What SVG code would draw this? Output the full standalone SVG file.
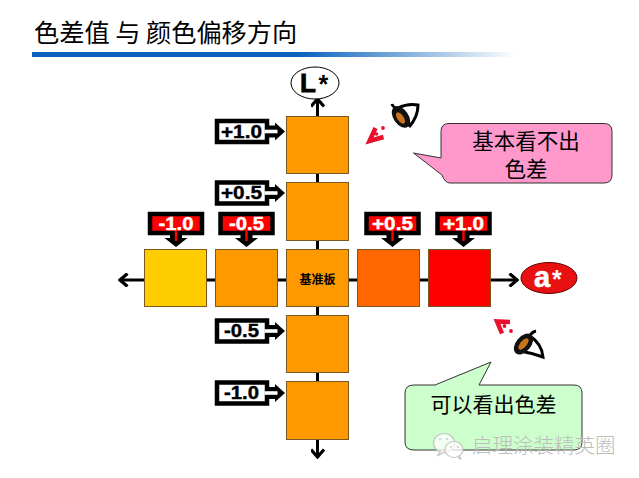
<svg xmlns="http://www.w3.org/2000/svg" width="639" height="478" viewBox="0 0 639 478">
<style>
.sq{stroke:#7a5a20;stroke-width:1}
.ln{fill:none;stroke:#000;stroke-width:3}
.lb{stroke:#000;stroke-width:4.5}
.t{font-family:"Liberation Sans",Arial,sans-serif;font-weight:700;font-size:18px;text-anchor:middle;stroke-width:.4}
.c{font-family:"Noto Sans CJK SC",sans-serif;text-anchor:middle;fill:#000}
</style>
<defs>
<linearGradient id="bar"><stop offset="0" stop-color="#0a62bd"/><stop offset="0.55" stop-color="#0a62bd"/><stop offset="1" stop-color="#0a62bd" stop-opacity="0"/></linearGradient>
<marker id="ah" markerUnits="userSpaceOnUse" viewBox="0 0 14 14" refX="12" refY="7" markerWidth="14" markerHeight="14" orient="auto"><path d="M4.500 .5L12 7L4.500 13.500" fill="none" stroke="#000" stroke-width="3.200"/></marker>
<g id="r"><path d="M-50 -10.500H0V10.500H-50Z"/><path d="M0 -6H8V-9L18 0L8 9V6H0Z" fill="#000" stroke="none"/><rect x="-2.500" y="-1.800" width="13" height="3.600" stroke="none"/></g>
<g id="d"><path d="M-26 -15H26V4H-26Z"/><path d="M-6 4H6V9H11.500L0 18L-11.500 9H-6Z" fill="#000" stroke="none"/><rect x="-1.200" y="1" width="2.400" height="11" stroke="none"/></g>
</defs>
<text x="34" y="42" class="c" style="text-anchor:start;font-size:25.200px" xml:space="preserve">色差值 与 颜色偏移方向</text>
<rect x="32" y="52" width="484" height="5" fill="url(#bar)"/>
<g id="connectors">
<line class="ln" x1="317.500" y1="116" x2="317.500" y2="99" marker-end="url(#ah)"/>
<line class="ln" x1="317.500" y1="439" x2="317.500" y2="457" marker-end="url(#ah)"/>
<line class="ln" x1="317.500" y1="173" x2="317.500" y2="182"/>
<line class="ln" x1="317.500" y1="240" x2="317.500" y2="249"/>
<line class="ln" x1="317.500" y1="306" x2="317.500" y2="315"/>
<line class="ln" x1="317.500" y1="372" x2="317.500" y2="381"/>
<line class="ln" x1="145" y1="280" x2="120" y2="280" marker-end="url(#ah)"/>
<line class="ln" x1="490" y1="280" x2="517" y2="280" marker-end="url(#ah)"/>
<line class="ln" x1="207" y1="280" x2="216" y2="280"/>
<line class="ln" x1="278" y1="280" x2="287" y2="280"/>
<line class="ln" x1="349" y1="280" x2="358" y2="280"/>
<line class="ln" x1="420" y1="280" x2="428" y2="280"/>
</g>
<g id="node-L"><ellipse cx="315" cy="83" rx="24" ry="16" fill="#fff" stroke="#000" stroke-width="1"/><text x="300" y="92" stroke="#000" stroke-width=".8" style="font:700 26px 'Liberation Sans',sans-serif">L</text><text x="318.500" y="92.500" style="font:700 25px 'Liberation Sans',sans-serif">*</text></g>
<g id="node-a"><ellipse cx="549" cy="278" rx="28" ry="15.500" fill="#e81010" stroke="#600" stroke-width="1"/><text x="534" y="287" fill="#fff" stroke="#fff" stroke-width=".6" style="font:700 29px 'Liberation Sans',sans-serif">a</text><text x="552" y="288" fill="#fff" style="font:700 25px 'Liberation Sans',sans-serif">*</text></g>
<g id="sq-L10"><rect class="sq" x="286.500" y="116.500" width="62" height="57" fill="#ff9900"/></g>
<g id="sq-L05"><rect class="sq" x="286.500" y="182.500" width="62" height="58" fill="#ff9900"/></g>
<g id="sq-La-10"><rect class="sq" x="286.500" y="315.500" width="62" height="57" fill="#ff9900"/></g>
<g id="sq-L-10"><rect class="sq" x="286.500" y="381.500" width="62" height="58" fill="#ff9900"/></g>
<g id="sq-a-10"><rect class="sq" x="144.500" y="249.500" width="62" height="57" fill="#ffcc00"/></g>
<g id="sq-a-05"><rect class="sq" x="215.500" y="249.500" width="62" height="57" fill="#ff9900"/></g>
<g id="sq-base"><rect class="sq" x="286.500" y="249.500" width="62" height="57" fill="#ff9900"/><text x="317.500" y="284" class="c" style="font-size:12px;font-weight:700">基准板</text></g>
<g id="sq-a05"><rect class="sq" x="357.500" y="249.500" width="62" height="57" fill="#ff6600"/></g>
<g id="sq-a10"><rect class="sq" x="428.500" y="249.500" width="62" height="57" fill="#ff0000"/></g>
<g id="lb-p10"><use href="#r" class="lb" fill="#fff" x="267" y="131.500"/><text class="t" stroke="#000" x="241.500" y="137.500" textLength="41" lengthAdjust="spacingAndGlyphs">+1.0</text></g>
<g id="lb-p05"><use href="#r" class="lb" fill="#fff" x="267" y="193"/><text class="t" stroke="#000" x="241.500" y="199" textLength="41" lengthAdjust="spacingAndGlyphs">+0.5</text></g>
<g id="lb-m05"><use href="#r" class="lb" fill="#fff" x="267" y="331"/><text class="t" stroke="#000" x="241.500" y="337" textLength="35" lengthAdjust="spacingAndGlyphs">-0.5</text></g>
<g id="lb-m10"><use href="#r" class="lb" fill="#fff" x="267" y="393"/><text class="t" stroke="#000" x="241.500" y="399" textLength="35" lengthAdjust="spacingAndGlyphs">-1.0</text></g>
<g id="lb-a-10"><use href="#d" class="lb" fill="#f00" x="176" y="229"/><text class="t" fill="#fff" stroke="#fff" x="176" y="230" textLength="35" lengthAdjust="spacingAndGlyphs">-1.0</text></g>
<g id="lb-a-05"><use href="#d" class="lb" fill="#f00" x="246.500" y="229"/><text class="t" fill="#fff" stroke="#fff" x="246.500" y="230" textLength="35" lengthAdjust="spacingAndGlyphs">-0.5</text></g>
<g id="lb-a05"><use href="#d" class="lb" fill="#f00" x="392.500" y="229"/><text class="t" fill="#fff" stroke="#fff" x="392.500" y="230" textLength="41" lengthAdjust="spacingAndGlyphs">+0.5</text></g>
<g id="lb-a10"><use href="#d" class="lb" fill="#f00" x="463.500" y="229"/><text class="t" fill="#fff" stroke="#fff" x="463.500" y="230" textLength="41" lengthAdjust="spacingAndGlyphs">+1.0</text></g>
<g id="eye1">
<path d="M392 104Q393 108 398 108Q408 103 418 105Q418 117 409 127" fill="none" stroke="#000" stroke-width="3"/>
<ellipse cx="401" cy="117" rx="7.500" ry="12" transform="rotate(-35 401 117)" fill="#111"/>
<ellipse cx="400.500" cy="118" rx="3.200" ry="6.500" transform="rotate(-35 400.500 118)" fill="#c8741a"/>
<path d="M375.500 128L369.500 141L383.500 137" fill="none" stroke="#e8102a" stroke-width="4.500"/>
<circle cx="376.500" cy="134" r="1.800" fill="#e8102a"/><circle cx="383" cy="128" r="1.900" fill="#e8102a"/>
</g>
<g id="eye2">
<path d="M536 331Q531 332 529 338M520 351Q532 353 543 357Q542 344 530 336" fill="none" stroke="#000" stroke-width="3"/>
<ellipse cx="523.500" cy="344" rx="7.500" ry="12" transform="rotate(40 523.500 344)" fill="#111"/>
<ellipse cx="523.500" cy="344" rx="3.200" ry="7" transform="rotate(40 523.500 344)" fill="#c8741a"/>
<path d="M510 322L497 321.500L502 333.500" fill="none" stroke="#e8102a" stroke-width="4.500"/>
<circle cx="504.500" cy="326" r="1.900" fill="#e8102a"/><circle cx="511" cy="331" r="1.900" fill="#e8102a"/>
</g>
<g id="callout-pink">
<path d="M449 123.500H604Q612 123.500 612 131.500V175Q612 183 604 183H450Q445 183 442 175L413.500 153L441 158V131.500Q441 123.500 449 123.500Z" fill="#ff99cc" stroke="#333" stroke-width="1"/>
<text class="c" x="526" y="149" style="font-size:21.500px">基本看不出</text>
<text class="c" x="526" y="177" style="font-size:21.500px">色差</text>
</g>
<g id="callout-green">
<path d="M414 385H435L491 362L479 385H574Q582 385 582 393V442Q582 450 574 450H414Q405 450 405 442V393Q405 385 414 385Z" fill="#ccffcc" stroke="#333" stroke-width="1"/>
<text class="c" x="493.500" y="412" style="font-size:21px">可以看出色差</text>
</g>
<g id="watermark" fill="#fff" fill-opacity=".75" stroke="#c4c4c4" stroke-width="1.200">
<ellipse cx="444" cy="443" rx="10.500" ry="9.500"/>
<path d="M441 451L437 456L445 452"/>
<ellipse cx="454" cy="449.500" rx="9" ry="8"/>
<path d="M457 456L461 459.500L459 455"/>
<circle cx="440" cy="439" r="1" fill="#bbb" stroke="none"/><circle cx="447" cy="439" r="1" fill="#bbb" stroke="none"/><circle cx="451" cy="447" r="1" fill="#bbb" stroke="none"/><circle cx="458" cy="447" r="1" fill="#bbb" stroke="none"/>
<text x="472" y="453" stroke="none" fill="#bdbdbd" fill-opacity="1" style="font:300 20.500px 'Noto Sans CJK SC',sans-serif">启理涂装精英圈</text>
</g>
</svg>
